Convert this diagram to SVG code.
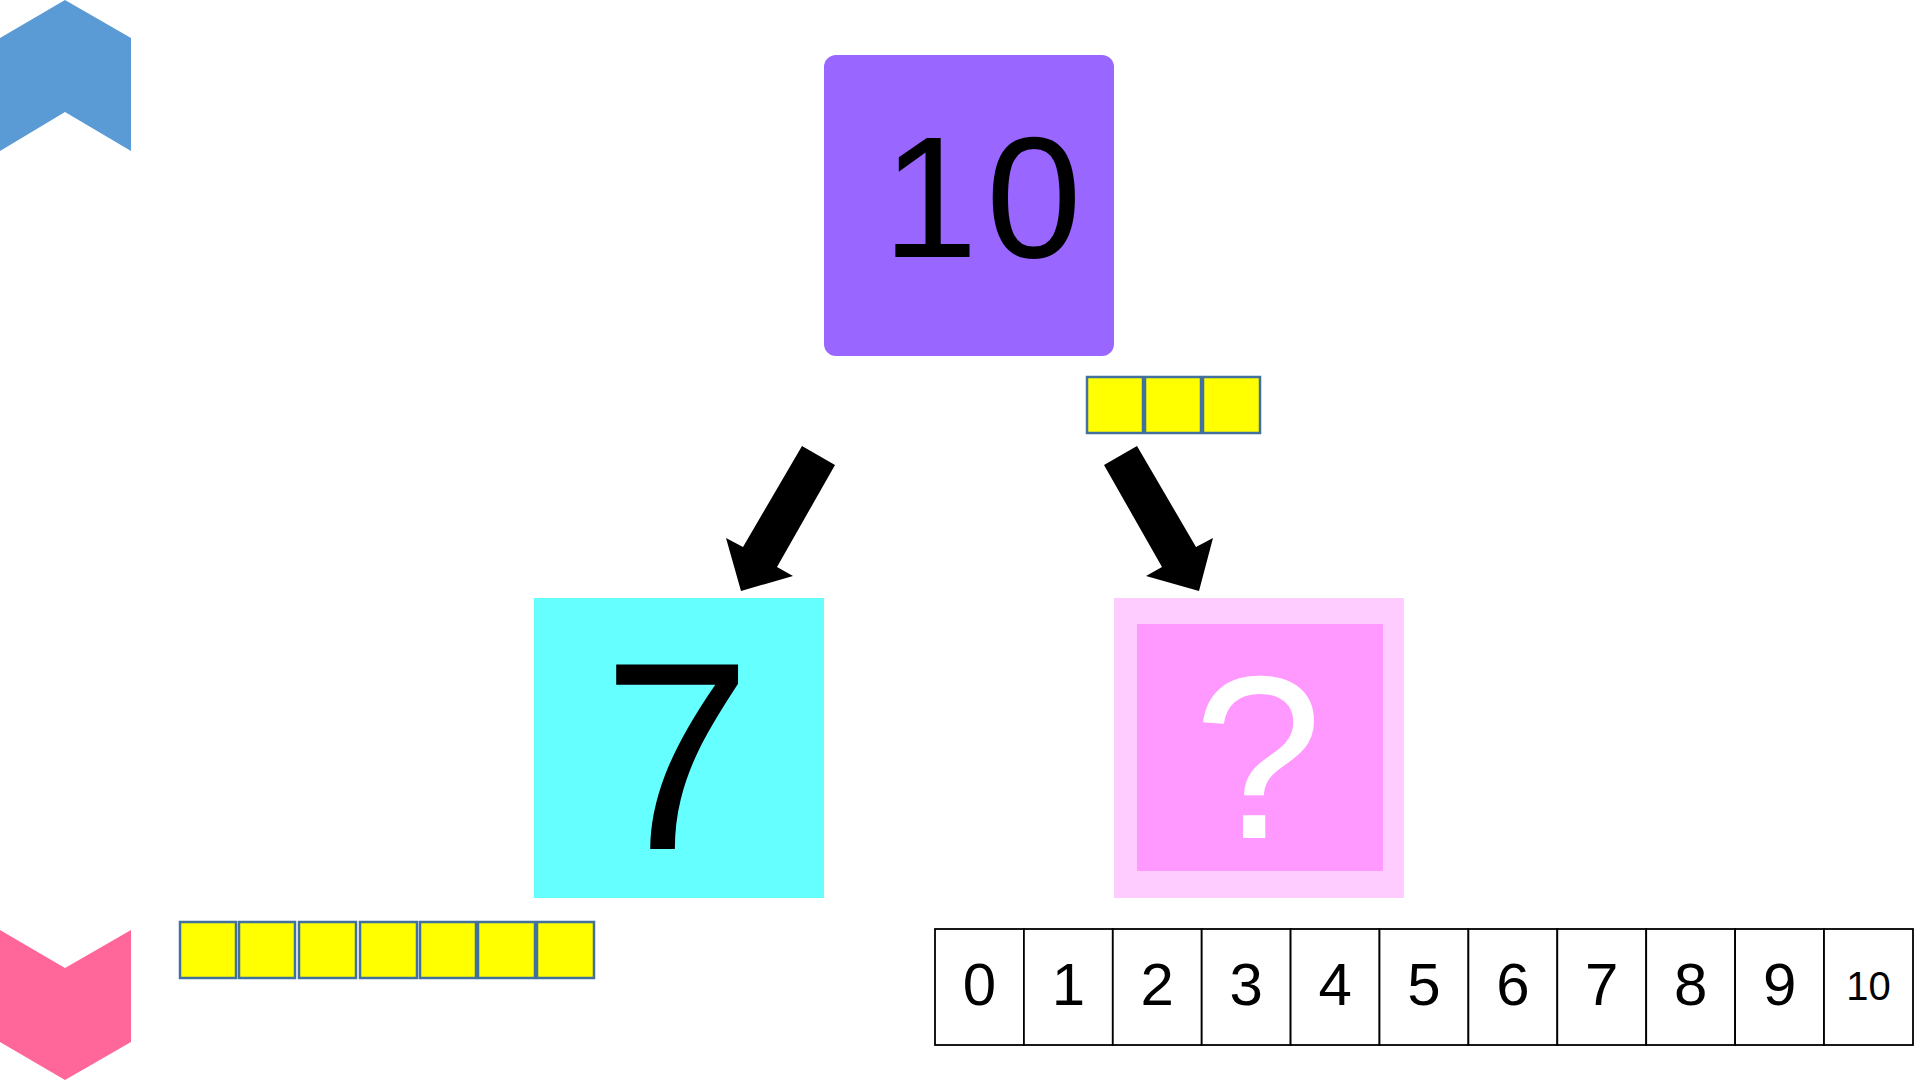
<svg xmlns="http://www.w3.org/2000/svg" width="1920" height="1080" viewBox="0 0 1920 1080">
<style>
.cube{fill:#FFFF00;stroke:#41719C;stroke-width:2.5}
.cell{fill:#FFFFFF;stroke:#000000;stroke-width:1.8}
.num{font-family:"Liberation Sans","DejaVu Sans",sans-serif;font-size:60px;fill:#000;text-anchor:middle}
.num.small{font-size:40px}
.big{font-family:"Liberation Sans","DejaVu Sans",sans-serif;text-anchor:middle}
.arrow{fill:#000000}
</style>
<rect x="0" y="0" width="1920" height="1080" fill="#FFFFFF"/>
<g id="chevron-up">
<polygon points="0,38 65,0 131,38 131,151 65,112 0,151" fill="#5B9BD5"/>
</g>
<g id="chevron-down">
<polygon points="0,930 65,968 131,930 131,1042 65,1080 0,1042" fill="#FF6699"/>
</g>
<g id="node-10">
<rect x="824" y="55" width="290" height="301" rx="12" fill="#9966FF"/>
<text class="big" x="986" y="257" font-size="172" letter-spacing="8">10</text>
</g>
<g id="cubes-3">
<rect class="cube" x="1087" y="377" width="56" height="56"/>
<rect class="cube" x="1145" y="377" width="56" height="56"/>
<rect class="cube" x="1203" y="377" width="57" height="56"/>
</g>
<g id="node-7">
<rect x="534" y="598" width="290" height="300" fill="#66FFFF"/>
<text class="big" x="677" y="849" font-size="268">7</text>
</g>
<g id="node-unknown">
<rect x="1114" y="598" width="290" height="300" fill="#FFCCFF"/>
<rect x="1137" y="624" width="246" height="247" fill="#FF99FF"/>
<text class="big" x="1258" y="838" font-size="232" fill="#FFFFFF">?</text>
</g>
<g id="cubes-7">
<rect class="cube" x="180" y="922" width="56" height="56"/>
<rect class="cube" x="239" y="922" width="56" height="56"/>
<rect class="cube" x="299" y="922" width="57" height="56"/>
<rect class="cube" x="360" y="922" width="57" height="56"/>
<rect class="cube" x="420" y="922" width="56" height="56"/>
<rect class="cube" x="478" y="922" width="57" height="56"/>
<rect class="cube" x="537" y="922" width="57" height="56"/>
</g>
<g id="number-line">
<rect class="cell" x="935" y="929" width="88.9" height="116"/>
<rect class="cell" x="1023.9" y="929" width="88.9" height="116"/>
<rect class="cell" x="1112.8" y="929" width="88.9" height="116"/>
<rect class="cell" x="1201.7" y="929" width="88.9" height="116"/>
<rect class="cell" x="1290.6" y="929" width="88.9" height="116"/>
<rect class="cell" x="1379.5" y="929" width="88.9" height="116"/>
<rect class="cell" x="1468.4" y="929" width="88.9" height="116"/>
<rect class="cell" x="1557.3" y="929" width="88.9" height="116"/>
<rect class="cell" x="1646.2" y="929" width="88.9" height="116"/>
<rect class="cell" x="1735.1" y="929" width="88.9" height="116"/>
<rect class="cell" x="1824" y="929" width="89" height="116"/>
<text class="num" x="979.5" y="1005">0</text>
<text class="num" x="1068.4" y="1005">1</text>
<text class="num" x="1157.3" y="1005">2</text>
<text class="num" x="1246.2" y="1005">3</text>
<text class="num" x="1335.1" y="1005">4</text>
<text class="num" x="1424" y="1005">5</text>
<text class="num" x="1512.9" y="1005">6</text>
<text class="num" x="1601.8" y="1005">7</text>
<text class="num" x="1690.7" y="1005">8</text>
<text class="num" x="1779.6" y="1005">9</text>
<text class="num small" x="1868.5" y="1000">10</text>
</g>
<g id="connectors">
<polygon class="arrow" points="802,446 835,465 777,567 793,576 741,591 726,538 743,547"/>
<polygon class="arrow" points="1137,446 1104,465 1162,567 1146,576 1199,591 1213,538 1196,547"/>
</g>
</svg>
